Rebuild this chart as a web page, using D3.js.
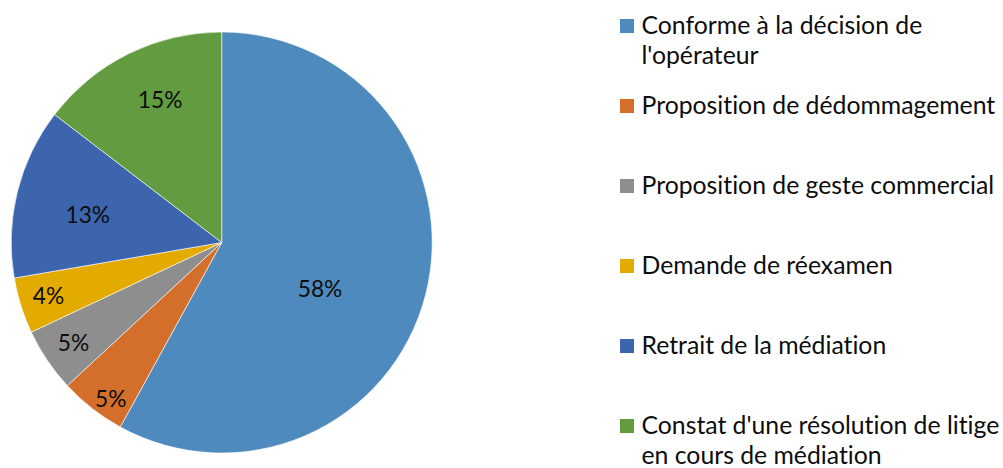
<!DOCTYPE html>
<html>
<head>
<meta charset="utf-8">
<script src="https://cdn.jsdelivr.net/npm/d3@7"></script>
<style>
  html, body { margin: 0; padding: 0; background: #fff; }
  svg { display: block; }
  text { font-variant-ligatures: none; font-feature-settings: "liga" 0, "clig" 0; }
</style>
</head>
<body>
<svg id="chart" width="1003" height="468"></svg>
<script>
// ---- data ----
const categories = [
  "Conforme à la décision de l'opérateur",
  "Proposition de dédommagement",
  "Proposition de geste commercial",
  "Demande de réexamen",
  "Retrait de la médiation",
  "Constat d'une résolution de litige en cours de médiation"
];
const legendLines = [
  ["Conforme à la décision de", "l'opérateur"],
  ["Proposition de dédommagement"],
  ["Proposition de geste commercial"],
  ["Demande de réexamen"],
  ["Retrait de la médiation"],
  ["Constat d'une résolution de litige", "en cours de médiation"]
];
const values = [58.0, 5.1, 4.9, 4.3, 13.1, 14.6];
const colors = ["#4F8ABE", "#D46F2B", "#8E8E8E", "#E3AA00", "#3C65AE", "#629B40"];

// ---- layout (styling) ----
const W = 1003, H = 468;
const cx = 221.7, cy = 242.5, R = 210.5;
const labelAngleShift = [10.5, -2.6, 0, 0.5, -2, 3];   // degrees, best-fit nudges
const labelRadius = [0.515, 0.91, 0.85, 0.86, 0.65, 0.74];
const fontFamily = "Lato, 'Open Sans', sans-serif";

const svg = d3.select("#chart");

const pie = d3.pie().sort(null).value(d => d)
  .startAngle(0).endAngle(2 * Math.PI);
const arcs = pie(values);
const arc = d3.arc().innerRadius(0).outerRadius(R);

const g = svg.append("g").attr("transform", `translate(${cx},${cy})`);
g.selectAll("path.slice")
  .data(arcs)
  .join("path")
  .attr("class", "slice")
  .attr("d", arc)
  .attr("fill", (d, i) => colors[i])
  .attr("stroke", "#ffffff")
  .attr("stroke-width", 0.6)
  .attr("stroke-linejoin", "round");

// fit a font size so a sample string hits a target width
function fitSize(sample, target) {
  const t = svg.append("text").attr("font-family", fontFamily)
    .attr("font-size", 100).text(sample);
  const w = t.node().getComputedTextLength();
  t.remove();
  return 100 * target / w;
}
const labelSize = fitSize("58%", 44.6);
const legendSize = fitSize("Proposition de dédommagement", 354);

g.selectAll("text.lbl")
  .data(arcs)
  .join("text")
  .attr("class", "lbl")
  .attr("font-family", fontFamily)
  .attr("font-size", labelSize)
  .attr("fill", "#0d0d0d")
  .attr("text-anchor", "middle")
  .attr("dominant-baseline", "central")
  .attr("x", (d, i) => {
    const a = (d.startAngle + d.endAngle) / 2 + labelAngleShift[i] * Math.PI / 180;
    return Math.sin(a) * R * labelRadius[i];
  })
  .attr("y", (d, i) => {
    const a = (d.startAngle + d.endAngle) / 2 + labelAngleShift[i] * Math.PI / 180;
    return -Math.cos(a) * R * labelRadius[i];
  })
  .text(d => Math.round(d.data) + "%");

// ---- legend ----
const legY = d3.scalePoint().domain(d3.range(categories.length)).range([26, 426]);
const leg = svg.append("g");
const items = leg.selectAll("g.item")
  .data(categories)
  .join("g")
  .attr("class", "item")
  .attr("transform", (d, i) => `translate(620,${legY(i)})`);
items.append("rect")
  .attr("x", 0).attr("y", -7)
  .attr("width", 14).attr("height", 14)
  .attr("fill", (d, i) => colors[i]);
items.each(function(d, i) {
  const t = d3.select(this).append("text")
    .attr("font-family", fontFamily)
    .attr("font-size", legendSize)
    .attr("fill", "#0d0d0d");
  legendLines[i].forEach((line, k) => {
    t.append("tspan").attr("x", 21.5).attr("y", 7.5 + k * 30.5).text(line);
  });
});
</script>
</body>
</html>
